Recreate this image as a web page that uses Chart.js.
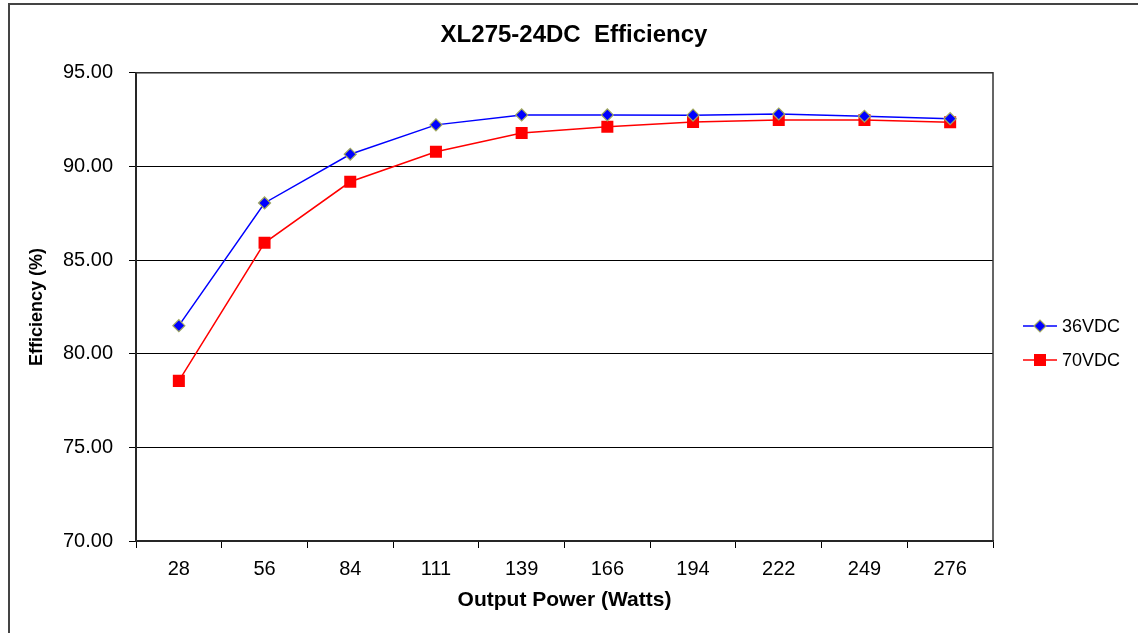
<!DOCTYPE html>
<html>
<head>
<meta charset="utf-8">
<script src="https://cdn.jsdelivr.net/npm/chart.js@4/dist/chart.umd.min.js"></script>
<style>
  html, body { margin: 0; padding: 0; background: #fff; }
  #wrap { position: relative; width: 1138px; height: 633px; }
</style>
</head>
<body>
<div id="wrap"><canvas id="chart" width="1138" height="633"></canvas></div>
<script>
  // output power (W) categories
  var powerLabels = ['28', '56', '84', '111', '139', '166', '194', '222', '249', '276'];
  // efficiency (%)
  var eff36 = [81.50, 88.05, 90.65, 92.22, 92.75, 92.75, 92.74, 92.80, 92.68, 92.55];
  var eff70 = [78.55, 85.92, 89.18, 90.78, 91.78, 92.12, 92.37, 92.48, 92.48, 92.36];
  var seriesNames = ['36VDC', '70VDC'];
  var yTicks = [70, 75, 80, 85, 90, 95];

  var font = 'Liberation Sans, Arial, sans-serif';

  // outer chart frame + plot area box
  var framePlugin = {
    id: 'frame',
    beforeDraw: function(chart) {
      var ctx = chart.ctx;
      ctx.save();
      ctx.strokeStyle = '#444';
      ctx.lineWidth = 2;
      ctx.strokeRect(9, 4, 1200, 700);
      ctx.restore();
    },
    beforeDatasetsDraw: function(chart) {
      var a = chart.chartArea, ctx = chart.ctx;
      ctx.save();
      ctx.strokeStyle = '#333';
      ctx.lineWidth = 1.5;
      ctx.strokeRect(a.left, a.top, a.right - a.left, a.bottom - a.top);
      ctx.restore();
    }
  };

  // Excel style legend: line through marker, on the right
  var sideLegend = {
    id: 'sideLegend',
    afterDraw: function(chart) {
      var ctx = chart.ctx;
      var x0 = 1023, y0 = 326, step = 34;
      ctx.save();
      chart.data.datasets.forEach(function(ds, i) {
        var y = y0 + i * step;
        ctx.strokeStyle = ds.borderColor;
        ctx.lineWidth = ds.borderWidth;
        ctx.beginPath();
        ctx.moveTo(x0, y);
        ctx.lineTo(x0 + 34, y);
        ctx.stroke();
        ctx.fillStyle = ds.pointBackgroundColor;
        ctx.strokeStyle = ds.pointBorderColor;
        ctx.lineWidth = ds.pointBorderWidth;
        Chart.helpers.drawPoint(ctx, {
          pointStyle: ds.pointStyle, radius: ds.pointRadius,
          rotation: 0, borderWidth: ds.pointBorderWidth
        }, x0 + 17, y);
        ctx.fillStyle = '#000';
        ctx.font = '18px ' + font;
        ctx.textBaseline = 'middle';
        ctx.fillText(ds.label, x0 + 39, y + 1);
      });
      ctx.restore();
    }
  };

  new Chart(document.getElementById('chart'), {
    type: 'line',
    data: {
      labels: powerLabels,
      datasets: [
        {
          label: seriesNames[0],
          data: eff36,
          borderColor: '#0000FF',
          borderWidth: 1.5,
          pointStyle: 'rectRot',
          pointRadius: 6,
          pointBackgroundColor: '#0000FF',
          pointBorderColor: '#A0A860',
          pointBorderWidth: 1.2,
          tension: 0
        },
        {
          label: seriesNames[1],
          data: eff70,
          borderColor: '#FF0000',
          borderWidth: 1.5,
          pointStyle: 'rect',
          pointRadius: 8.5,
          pointBackgroundColor: '#FF0000',
          pointBorderColor: '#FF0000',
          pointBorderWidth: 0,
          tension: 0
        }
      ]
    },
    options: {
      responsive: false,
      animation: false,
      layout: { padding: { left: 10, right: 0, top: 0, bottom: 20 } },
      plugins: {
        legend: { display: false },
        tooltip: { enabled: false },
        title: {
          display: true,
          text: 'XL275-24DC  Efficiency',
          color: '#000',
          font: { family: font, size: 24, weight: 'bold' },
          padding: { top: 21, bottom: 23 }
        }
      },
      scales: {
        x: {
          offset: true,
          grid: {
            offset: true,
            drawOnChartArea: false,
            drawTicks: true,
            tickLength: 7,
            color: '#000'
          },
          border: { color: '#000', width: 1.5 },
          ticks: {
            color: '#000',
            font: { family: font, size: 20 },
            padding: 9,
            maxRotation: 0,
            autoSkip: false
          },
          title: {
            display: true,
            text: 'Output Power (Watts)',
            color: '#000',
            font: { family: font, size: 21, weight: 'bold' },
            padding: { top: 4, bottom: 0 }
          },
          afterFit: function(s) { s.height = 72; }
        },
        y: {
          min: yTicks[0],
          max: yTicks[yTicks.length - 1],
          afterBuildTicks: function(s) {
            s.ticks = yTicks.map(function(v) { return { value: v }; });
          },
          grid: {
            color: '#000',
            lineWidth: 1,
            drawTicks: true,
            tickLength: 7
          },
          border: { color: '#000', width: 2 },
          ticks: {
            color: '#000',
            font: { family: font, size: 20 },
            padding: 16,
            callback: function(v) { return Number(v).toFixed(2); }
          },
          title: {
            display: true,
            text: 'Efficiency (%)',
            color: '#000',
            font: { family: font, size: 18, weight: 'bold' },
            padding: { top: 16, bottom: 0 }
          },
          afterFit: function(s) { s.width = 126; }
        },
        // empty right-hand axis that only reserves room for the legend
        legendSpace: {
          type: 'linear',
          position: 'right',
          grid: { drawOnChartArea: false, drawTicks: false },
          border: { display: false },
          ticks: { display: false },
          afterFit: function(s) { s.width = 145; }
        }
      }
    },
    plugins: [framePlugin, sideLegend]
  });
</script>
</body>
</html>
